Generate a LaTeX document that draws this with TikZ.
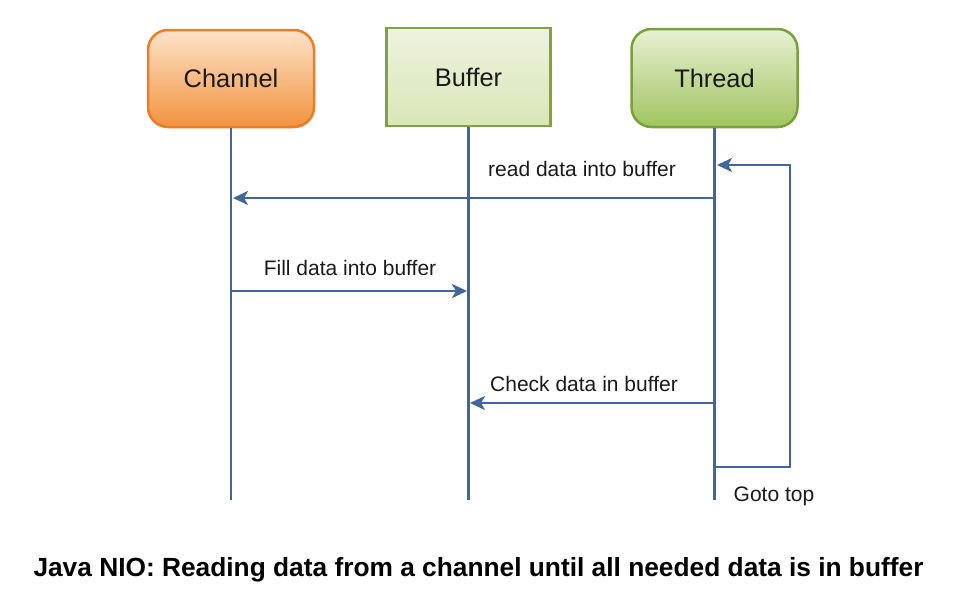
\documentclass[tikz,border=0pt]{standalone}
\usepackage{fontspec}
\setmainfont{Liberation Sans}
\usetikzlibrary{arrows.meta}
\definecolor{lineblue}{HTML}{40669A}
\definecolor{orangetop}{HTML}{FDE3C9}
\definecolor{orangebot}{HTML}{F2923E}
\definecolor{orangedraw}{HTML}{EA7D25}
\definecolor{buftop}{HTML}{EEF3DF}
\definecolor{bufbot}{HTML}{D9E6B6}
\definecolor{bufdraw}{HTML}{82A044}
\definecolor{thrtop}{HTML}{E7F0D3}
\definecolor{thrbot}{HTML}{A0C45E}
\definecolor{thrdraw}{HTML}{7AA03A}
\definecolor{txt}{HTML}{1A1A1A}
\tikzset{
  actor/.style={minimum width=166pt, minimum height=97pt, line width=2.5pt, inner sep=0pt,
    font=\fontsize{25.4}{29}\selectfont, text=txt},
  life/.style={draw=lineblue, line width=2.5pt},
  msg/.style={draw=lineblue, line width=2.5pt, -{Stealth[length=15pt,width=14pt,inset=4pt]}},
  lbl/.style={font=\fontsize{21}{25}\selectfont, text=txt, inner sep=0pt},
  caption/.style={font=\bfseries\fontsize{26.3}{30}\selectfont, text=black, inner sep=0pt}
}
\begin{document}
\begin{tikzpicture}[x=1pt,y=-1pt]
\useasboundingbox (0,0) rectangle (958,605);
\node[actor, rounded corners=20pt, draw=orangedraw, top color=orangetop, bottom color=orangebot] (ch) at (231,78.5) {Channel};
\node[actor, draw=bufdraw, top color=buftop, bottom color=bufbot, minimum width=164pt, minimum height=98pt] (bu) at (468.5,77) {Buffer};
\node[actor, rounded corners=20pt, draw=thrdraw, top color=thrtop, bottom color=thrbot, minimum height=98pt] (th) at (714.5,78) {Thread};
\coordinate (chend) at (231,500);
\coordinate (buend) at (468.5,500);
\coordinate (thend) at (714.5,500);
\draw[life] (ch.south) -- (chend);
\draw[life] (bu.south) -- (buend);
\draw[life] (th.south) -- (thend);
% messages
\coordinate (t1) at (714.5,198);
\coordinate (c1) at (233,198);
\coordinate (c2) at (231,291);
\coordinate (b2) at (467,291);
\coordinate (t3) at (714.5,403);
\coordinate (b3) at (470,403);
\coordinate (t4) at (714.5,467);
\coordinate (t0) at (717,165);
\draw[msg] (t1) -- (c1);
\draw[msg] (c2) -- (b2);
\draw[msg] (t3) -- (b3);
\draw[msg] (t4) -- (790,467) -- (790,165) -- (t0);
\node[lbl] (l1) at (582,169) {read data into buffer};
\node[lbl] (l2) at (350,268) {Fill data into buffer};
\node[lbl] (l3) at (584,384) {Check data in buffer};
\node[lbl] (l4) at (774,496) {Goto top};
\node[caption] (cap) at (478.5,570) {Java NIO: Reading data from a channel until all needed data is in buffer};
\end{tikzpicture}
\end{document}
